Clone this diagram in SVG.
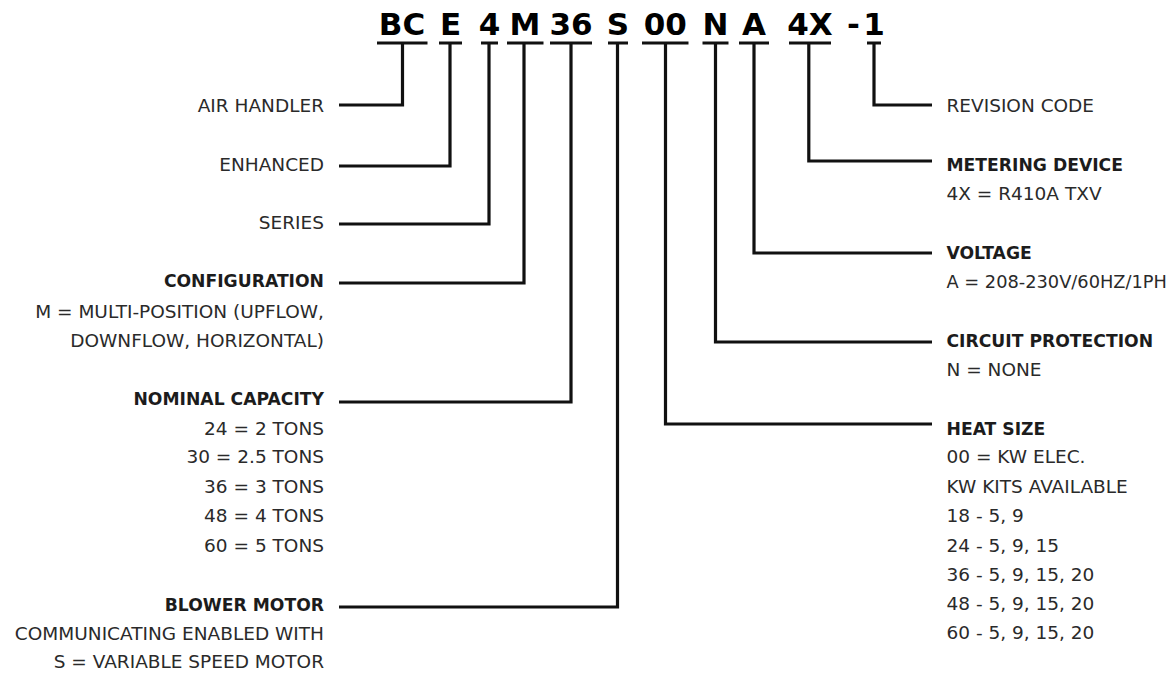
<svg xmlns="http://www.w3.org/2000/svg" width="1176" height="675" viewBox="0 0 1176 675">
<style>
.t{font-family:"DejaVu Sans","Liberation Sans",sans-serif;font-size:18.5px;fill:#2a2a2a}
.b{font-family:"DejaVu Sans","Liberation Sans",sans-serif;font-size:17.2px;font-weight:bold;fill:#1c1c1c}
.code{font-family:"DejaVu Sans","Liberation Sans",sans-serif;font-size:31px;font-weight:bold;fill:#000;text-anchor:middle}
.l{text-anchor:end}
.ul{stroke:#111;stroke-width:3.2;fill:none}
.c{stroke:#111;stroke-width:3.2;fill:none;stroke-linejoin:miter;stroke-linecap:butt}
</style>
<rect width="1176" height="675" fill="#fff"/>
<g id="model-code">
<text class="code" x="402" y="35">BC</text>
<text class="code" x="450.5" y="35">E</text>
<text class="code" x="489.5" y="35">4</text>
<text class="code" x="525" y="35">M</text>
<text class="code" x="571" y="35">36</text>
<text class="code" x="618" y="35">S</text>
<text class="code" x="665.3" y="35">00</text>
<text class="code" x="715.5" y="35">N</text>
<text class="code" x="754" y="35">A</text>
<text class="code" x="810" y="35">4X</text>
<text class="code" x="853.5" y="35">-</text>
<text class="code" x="874" y="35">1</text>
<path class="ul" d="M377,43H427.5M439,43H462M481,43H498M507,43H543.5M550,43H592M608,43H628M642,43H688.5M702.5,43H728.5M739,43H769M789,43H831M867,43H881"/>
</g>
<g id="connectors">
<path class="c" d="M402.5,43V105H339"/>
<path class="c" d="M450,43V166H339"/>
<path class="c" d="M489,43V224H339"/>
<path class="c" d="M524,43V283H339"/>
<path class="c" d="M571,43V402H339"/>
<path class="c" d="M617.5,43V607H339"/>
<path class="c" d="M665.5,43V424H932"/>
<path class="c" d="M715.5,43V342H932"/>
<path class="c" d="M754,43V253H932"/>
<path class="c" d="M808.8,43V161H932"/>
<path class="c" d="M874,43V105H932"/>
</g>
<g id="air-handler"><text class="t l" x="324" y="111.5">AIR HANDLER</text></g>
<g id="enhanced"><text class="t l" x="324" y="170.5">ENHANCED</text></g>
<g id="series"><text class="t l" x="324" y="229">SERIES</text></g>
<g id="configuration">
<text class="b l" x="324" y="287">CONFIGURATION</text>
<text class="t l" x="324" y="318">M = MULTI-POSITION (UPFLOW,</text>
<text class="t l" x="324" y="347">DOWNFLOW, HORIZONTAL)</text>
</g>
<g id="nominal-capacity">
<text class="b l" x="324" y="405">NOMINAL CAPACITY</text>
<text class="t l" x="324" y="435">24 = 2 TONS</text>
<text class="t l" x="324" y="463">30 = 2.5 TONS</text>
<text class="t l" x="324" y="493">36 = 3 TONS</text>
<text class="t l" x="324" y="522">48 = 4 TONS</text>
<text class="t l" x="324" y="551.5">60 = 5 TONS</text>
</g>
<g id="blower-motor">
<text class="b l" x="324" y="610.5">BLOWER MOTOR</text>
<text class="t l" x="324" y="640">COMMUNICATING ENABLED WITH</text>
<text class="t l" x="324" y="668">S = VARIABLE SPEED MOTOR</text>
</g>
<g id="revision-code"><text class="t" x="946.5" y="112">REVISION CODE</text></g>
<g id="metering-device">
<text class="b" x="946.5" y="171">METERING DEVICE</text>
<text class="t" x="946.5" y="200">4X = R410A TXV</text>
</g>
<g id="voltage">
<text class="b" x="946.5" y="259">VOLTAGE</text>
<text class="t" x="946.5" y="288" style="font-size:17.8px">A = 208-230V/60HZ/1PH</text>
</g>
<g id="circuit-protection">
<text class="b" x="946.5" y="347">CIRCUIT PROTECTION</text>
<text class="t" x="946.5" y="376">N = NONE</text>
</g>
<g id="heat-size">
<text class="b" x="946.5" y="435">HEAT SIZE</text>
<text class="t" x="946.5" y="463">00 = KW ELEC.</text>
<text class="t" x="946.5" y="493">KW KITS AVAILABLE</text>
<text class="t" x="946.5" y="522">18 - 5, 9</text>
<text class="t" x="946.5" y="551.5">24 - 5, 9, 15</text>
<text class="t" x="946.5" y="581">36 - 5, 9, 15, 20</text>
<text class="t" x="946.5" y="610">48 - 5, 9, 15, 20</text>
<text class="t" x="946.5" y="639">60 - 5, 9, 15, 20</text>
</g>
</svg>
